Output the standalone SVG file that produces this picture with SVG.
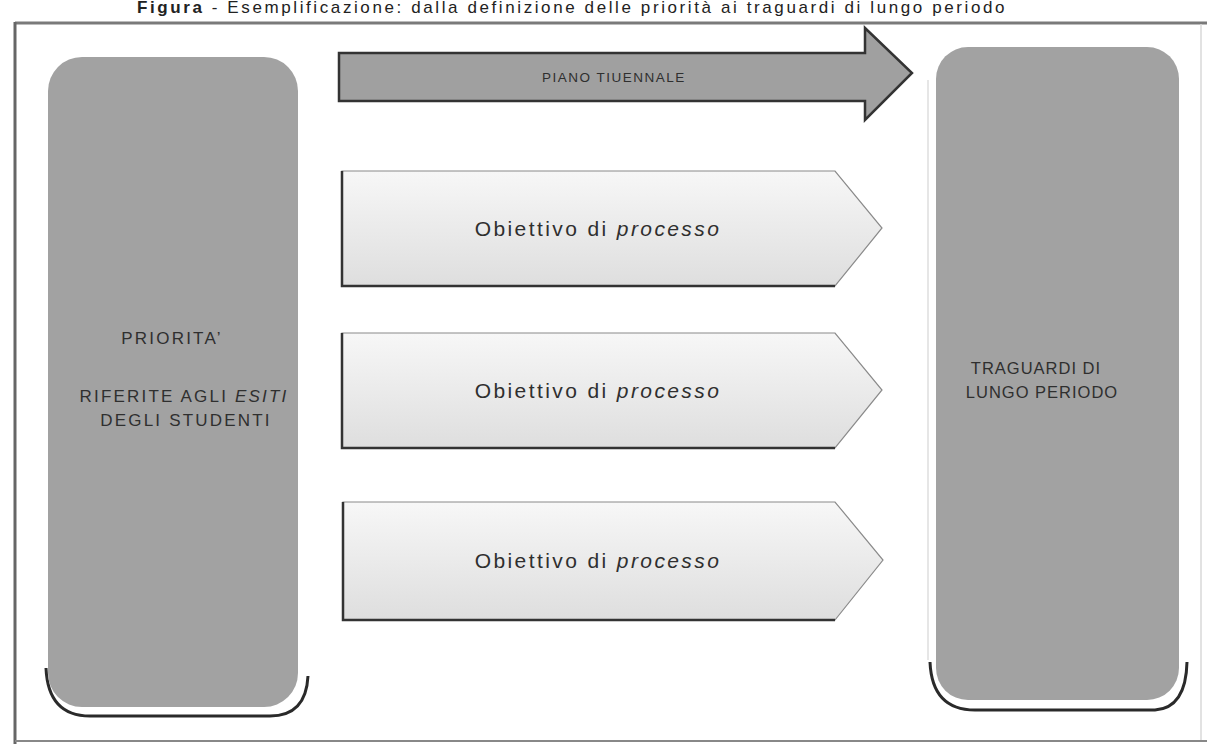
<svg xmlns="http://www.w3.org/2000/svg" width="1207" height="744" viewBox="0 0 1207 744">
<defs>
<linearGradient id="gObj" x1="0" y1="0" x2="0" y2="1">
<stop offset="0" stop-color="#f7f7f7"/>
<stop offset="1" stop-color="#dedede"/>
</linearGradient>
<style>
.t{font-family:"Liberation Sans",Arial,sans-serif;fill:#2f2f2f;text-anchor:middle}
.side{fill:#a2a2a2}
.sideT{font-size:17px;letter-spacing:2.2px}
.sideR{font-size:16.5px;letter-spacing:1px}
.objT{font-size:21px;letter-spacing:2.4px}
.shadow{fill:none;stroke:#2a2a2a;stroke-width:3}
.obj{fill:url(#gObj);stroke:#8a8a8a;stroke-width:1.2}
.objEdge{fill:none;stroke:#333;stroke-width:2.5}
</style>
</defs>
<rect width="1207" height="744" fill="#ffffff"/>
<text x="572" y="13" class="t" style="font-size:17px;letter-spacing:2.6px;fill:#222"><tspan font-weight="bold">Figura</tspan> - Esemplificazione: dalla definizione delle priorità ai traguardi di lungo periodo</text>
<g id="frame">
<line x1="15" y1="23" x2="1207" y2="23" stroke="#7a7a7a" stroke-width="3"/>
<line x1="15" y1="22" x2="15" y2="744" stroke="#666" stroke-width="3"/>
<line x1="1201" y1="24" x2="1201" y2="740" stroke="#d8d8d8" stroke-width="1.5"/>
<line x1="15" y1="741" x2="1207" y2="741" stroke="#888" stroke-width="2"/>
</g>
<g id="connectors"></g>
<g id="priorita">
<path class="shadow" d="M46,668 Q48,716 90,716 L270,716 Q306,716 308,676"/>
<rect class="side" x="48" y="57" width="250" height="650" rx="34" ry="34"/>
<text class="t sideT" x="172" y="344">PRIORITA’</text>
<text class="t sideT" x="184" y="402">RIFERITE AGLI <tspan font-style="italic">ESITI</tspan></text>
<text class="t sideT" x="186" y="426">DEGLI STUDENTI</text>
</g>
<g id="traguardi">
<line x1="928" y1="80" x2="928" y2="660" stroke="#e6e6e6" stroke-width="2"/>
<path class="shadow" d="M930,662 Q932,710 975,710 L1155,710 Q1186,708 1187,662"/>
<rect class="side" x="936" y="47" width="243" height="653" rx="32" ry="32"/>
<text class="t sideR" x="1036" y="374">TRAGUARDI DI</text>
<text class="t sideR" x="1042" y="398">LUNGO PERIODO</text>
</g>
<g id="piano">
<path d="M339,53 L865,53 L865,28 L912,73 L865,120 L865,101 L339,101 Z" fill="#a0a0a0" stroke="#333" stroke-width="2.5" stroke-linejoin="miter"/>
<text class="t" x="614" y="82" style="font-size:13.5px;letter-spacing:1.5px">PIANO TIUENNALE</text>
</g>
<g id="obiettivo1">
<path class="obj" d="M342,171 L835,171 L882,228 L835,286 L342,286 Z"/>
<path class="objEdge" d="M342,171 L342,286 L835,286"/>
<text class="t objT" x="598" y="236">Obiettivo di <tspan font-style="italic">processo</tspan></text>
</g>
<g id="obiettivo2">
<path class="obj" d="M342,333 L835,333 L882,390 L835,448 L342,448 Z"/>
<path class="objEdge" d="M342,333 L342,448 L835,448"/>
<text class="t objT" x="598" y="398">Obiettivo di <tspan font-style="italic">processo</tspan></text>
</g>
<g id="obiettivo3">
<path class="obj" d="M343,502 L835,502 L883,560 L835,620 L343,620 Z"/>
<path class="objEdge" d="M343,502 L343,620 L835,620"/>
<text class="t objT" x="598" y="568">Obiettivo di <tspan font-style="italic">processo</tspan></text>
</g>
</svg>
